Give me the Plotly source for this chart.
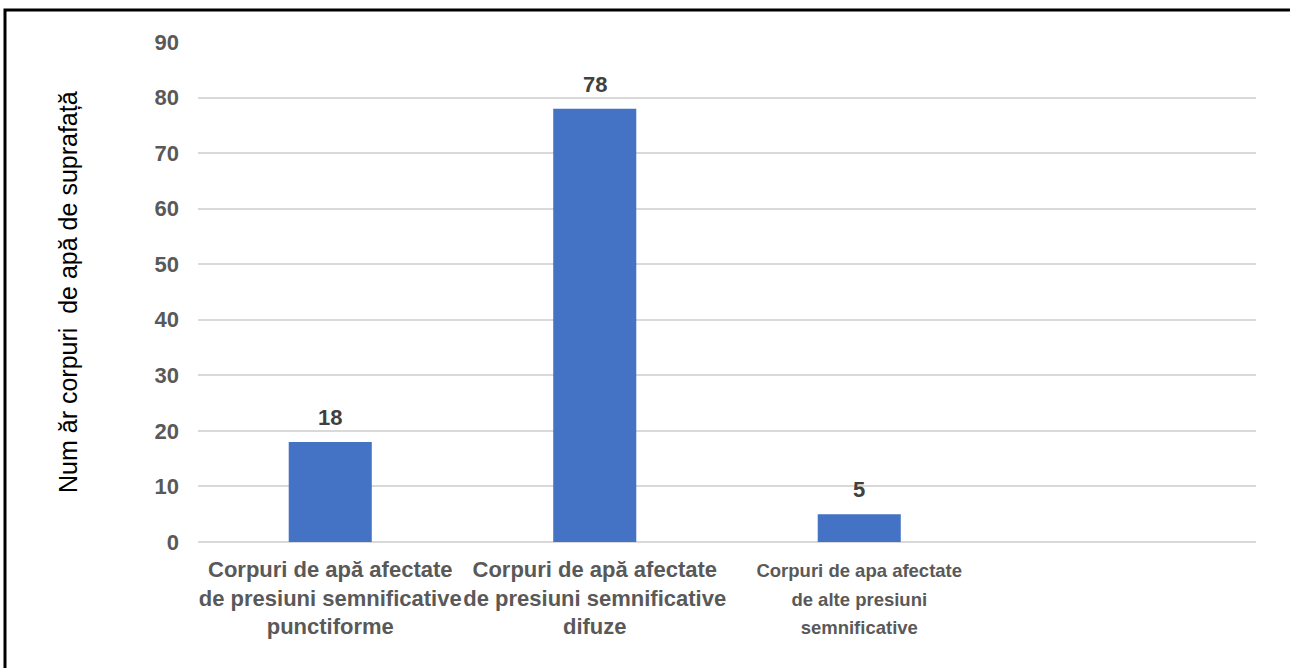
import plotly.graph_objects as go

categories = [
    "Corpuri de apă afectate<br>de presiuni semnificative<br>punctiforme",
    "Corpuri de apă afectate<br>de presiuni semnificative<br>difuze",
    "Corpuri de apa afectate<br>de alte presiuni<br>semnificative",
]
values = [18, 78, 5]
y_ticks = [0, 10, 20, 30, 40, 50, 60, 70, 80, 90]
y_title = "Num ăr corpuri  de apă de suprafață"

W, H = 1290, 668
L, R, T, B = 198, 34, 42, 126
pw, ph = W - L - R, H - T - B

fig = go.Figure()
fig.add_trace(go.Bar(
    x=list(range(len(categories))),
    y=values,
    width=0.314,
    marker=dict(color="#4472C4", line=dict(width=0)),
    hoverinfo="skip",
))

for i, v in enumerate(values):
    fig.add_annotation(
        x=i, y=v, text=f"<b>{v}</b>", showarrow=False,
        yanchor="bottom", yshift=10,
        font=dict(family="Arial", size=22, color="#404040"),
    )

ticktext = []
for i, c in enumerate(categories):
    inner = "<b>" + c.replace("<br>", "</b><br><b>") + "</b>"
    if i == 2:
        inner = "<span style=\"font-size:18.5px\">" + inner + "</span>"
    ticktext.append(inner)

fig.add_annotation(
    xref="paper", yref="paper", x=(68 - L) / pw, y=0.5,
    xanchor="center", yanchor="middle", textangle=-90,
    text=y_title, showarrow=False,
    font=dict(family="Arial", size=25, color="#000000"),
)

fig.update_layout(
    width=W, height=H,
    margin=dict(l=L, r=R, t=T, b=B),
    paper_bgcolor="white", plot_bgcolor="white",
    showlegend=False,
    font=dict(family="Arial", color="#595959"),
    xaxis=dict(
        range=[-0.5, 3.5],
        tickmode="array",
        tickvals=list(range(len(categories))),
        ticktext=ticktext,
        tickangle=0,
        tickfont=dict(size=22, color="#595959", family="Arial"),
        showgrid=False, zeroline=False, showline=False, ticks="",
        ticklabelstandoff=12,
        automargin=False,
    ),
    yaxis=dict(
        range=[0, 90],
        tickmode="array",
        tickvals=y_ticks,
        ticktext=[f"<b>{t}</b>" for t in y_ticks],
        tickfont=dict(size=22, color="#595959", family="Arial"),
        showgrid=True, gridcolor="#D9D9D9", gridwidth=1.5,
        zeroline=True, zerolinecolor="#D9D9D9", zerolinewidth=1.5,
        showline=False, ticks="",
        ticklabelstandoff=18,
        automargin=False,
    ),
    shapes=[dict(
        type="rect", xref="paper", yref="paper",
        x0=(5 - L) / pw, x1=(W + 20 - L) / pw,
        y0=-(H + 20 - (H - B)) / ph, y1=((H - B) - 10) / ph,
        line=dict(color="black", width=3), fillcolor="rgba(0,0,0,0)",
    )],
)

fig.write_html("out.html", config={"displayModeBar": False},
               post_script="document.body.style.margin='0';")
